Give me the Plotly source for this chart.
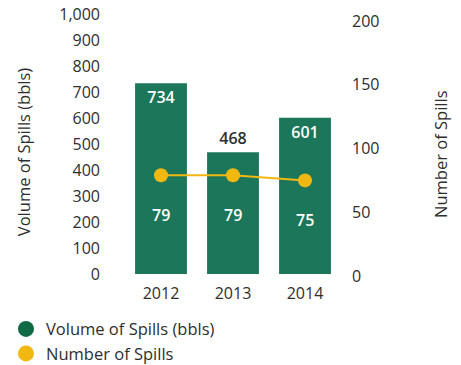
import plotly.graph_objects as go

years = ["2012", "2013", "2014"]
volume_bbls = [734, 468, 601]
spill_count = [79, 79, 75]
volume_ticks = [0, 100, 200, 300, 400, 500, 600, 700, 800, 900, 1000]
count_ticks = [0, 50, 100, 150, 200]
# which bar labels sit inside the bar top and which sit above it
volume_label_pos = ["inside", "outside", "inside"]

GREEN = "#1b765a"
YELLOW = "#f1b812"
TEXT = "#2e2e2e"
FONT = "Open Sans"

fig = go.Figure()

fig.add_trace(go.Bar(
    x=years, y=volume_bbls, yaxis="y",
    marker=dict(color=GREEN, line=dict(width=0)),
    width=0.72,
    text=volume_bbls, texttemplate="%{text}",
    textposition=volume_label_pos,
    insidetextanchor="end",
    insidetextfont=dict(color="white", size=16, family=FONT, weight=600),
    outsidetextfont=dict(color=TEXT, size=16, family=FONT, weight=600),
    cliponaxis=False,
    showlegend=False, hoverinfo="skip",
))

fig.add_trace(go.Scatter(
    x=years, y=spill_count, yaxis="y2",
    mode="lines+markers",
    line=dict(color=YELLOW, width=2),
    marker=dict(color=YELLOW, size=14),
    showlegend=False, hoverinfo="skip",
))

# legend entries drawn as round dots
fig.add_trace(go.Scatter(x=[None], y=[None], mode="markers", name="Volume of Spills (bbls)",
                         marker=dict(color="#0f6a45", size=17)))
fig.add_trace(go.Scatter(x=[None], y=[None], mode="markers", name="Number of Spills",
                         marker=dict(color=YELLOW, size=17)))

# spill counts written inside the bars, below each point of the line
for i, c in enumerate(spill_count):
    fig.add_annotation(x=i, y=c, xref="x", yref="y2", text=str(c), showarrow=False,
                       yshift=-40, font=dict(color="white", size=16, family=FONT, weight=600))

# axis titles
fig.add_annotation(x=-0.472, y=0.474, xref="paper", yref="paper", text="Volume of Spills (bbls)",
                   textangle=-90, showarrow=False, xanchor="center", yanchor="middle",
                   font=dict(size=16.5, color=TEXT, family=FONT))
fig.add_annotation(x=1.458, y=0.467, xref="paper", yref="paper", text="Number of Spills",
                   textangle=-90, showarrow=False, xanchor="center", yanchor="middle",
                   font=dict(size=16.5, color=TEXT, family=FONT))

fig.update_layout(
    template="none",
    width=461, height=365,
    margin=dict(l=125, r=120, t=8, b=83, autoexpand=False),
    paper_bgcolor="white", plot_bgcolor="white",
    font=dict(family=FONT, size=16, color=TEXT),
    xaxis=dict(
        type="category", automargin=False,
        range=[-0.5, 2.5], showgrid=False, zeroline=False, showline=False,
        ticks="", tickfont=dict(size=16, color=TEXT),
    ),
    yaxis=dict(
        automargin=False,
        range=[-30.8, 1023.1], tickvals=volume_ticks, tickformat=",",
        showgrid=False, zeroline=False, showline=False, ticks="",
        ticklabelstandoff=24, tickfont=dict(size=16, color=TEXT),
        ticklabeloverflow="allow",
    ),
    yaxis2=dict(
        overlaying="y", side="right", automargin=False,
        range=[-4.7, 210.2], tickvals=count_ticks,
        showgrid=False, zeroline=False, showline=False, ticks="",
        ticklabelstandoff=10, tickfont=dict(size=16, color=TEXT),
    ),
    legend=dict(
        xref="container", yref="container",
        x=0.013, y=0.146, xanchor="left", yanchor="top",
        font=dict(size=16.5, color=TEXT), tracegroupgap=0,
        bgcolor="rgba(0,0,0,0)",
    ),
    bargap=0.28,
)

fig.write_html("out.html")
